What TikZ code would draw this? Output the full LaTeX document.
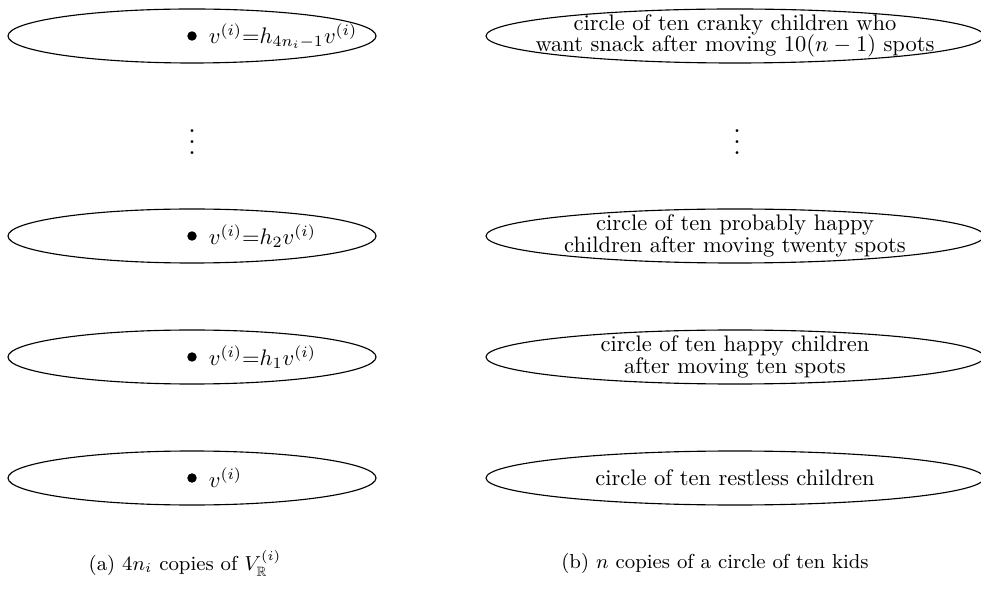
\documentclass[tikz,border=0pt]{standalone}
\usepackage{amsmath}
\usepackage{amssymb}
\usepackage{tikz}
\newcommand{\ring}[4]{%
  \coordinate (#1) at (#2,#3);
  \draw[line width=0.5pt] (#1) ellipse ({#4} and 27);}
\newcommand{\vrow}[3]{%
  \node[circle,fill,inner sep=0pt,minimum size=4.2pt] (d#1) at (l#1) {};
  \node[anchor=west,inner sep=0pt] (v#1) at ([xshift=5pt]d#1.east) {#3};}

\begin{document}
\begin{tikzpicture}[x=0.4444pt,y=-0.4444pt]
  \useasboundingbox (0,0) rectangle (981,597);
  \clip (0,0) rectangle (981,597);
  % left: copies of V
  \foreach \n/\y in {a/36,b/236,c/357,d/478}
    {\ring{l\n}{192}{\y}{184}}
  \vrow{a}{}{$v^{(i)}{=}h_{4n_i-1}v^{(i)}$}
  \vrow{b}{}{$v^{(i)}{=}h_2v^{(i)}$}
  \vrow{c}{}{$v^{(i)}{=}h_1v^{(i)}$}
  \vrow{d}{}{$v^{(i)}$}
  \node[scale=1.2] (ldots) at (192,134) {$\vdots$};
  % right: circles of kids
  \foreach \n/\y in {a/36,b/236,c/357,d/478}
    {\ring{r\n}{735}{\y}{249}}
  \node[align=center] (ka) at (ra) {circle of ten cranky children who\\[-2.5pt]want snack after moving $10(n-1)$ spots};
  \node[align=center] (kb) at (rb) {circle of ten probably happy\\[-2.5pt]children after moving twenty spots};
  \node[align=center] (kc) at (rc) {circle of ten happy children\\[-2.5pt]after moving ten spots};
  \node (kd) at (rd) {circle of ten restless children};
  \node[scale=1.2] (rdots) at (737,134) {$\vdots$};
  % captions
  \node[font=\small] (capa) at (185,563) {(a) $4n_i$ copies of $V_{\mathbb{R}}^{(i)}$};
  \node[font=\small] (capb) at (715,563) {(b) $n$ copies of a circle of ten kids};
\end{tikzpicture}
\end{document}
